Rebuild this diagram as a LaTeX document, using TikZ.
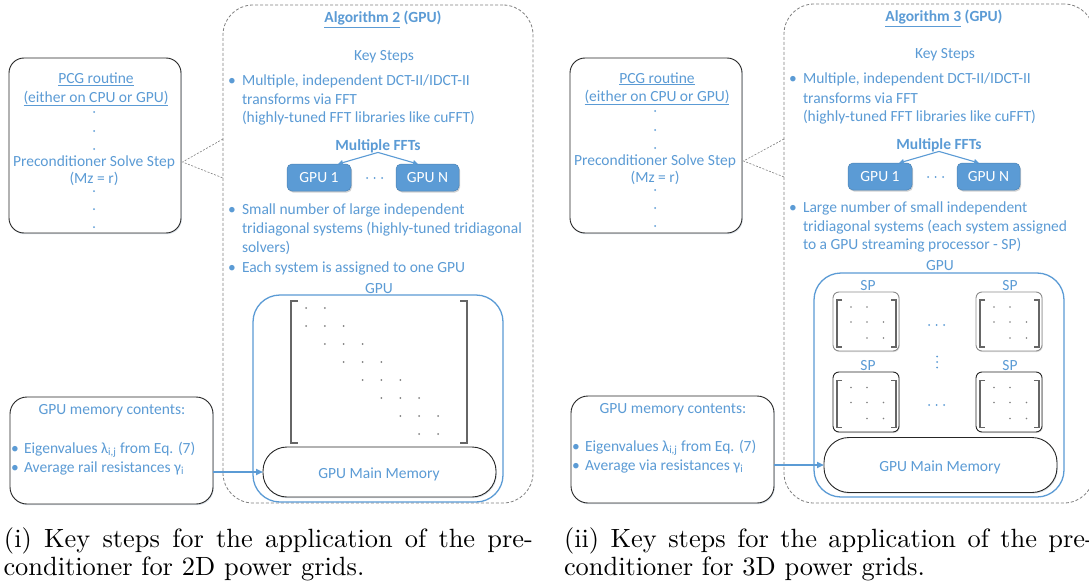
\documentclass[tikz,border=0pt]{standalone}
\usepackage{fontspec}
\newfontfamily\calfont{Carlito}
\newfontfamily\capfont{lmroman10-regular}[Extension=.otf]
\usetikzlibrary{arrows.meta,shadows,calc}
\definecolor{tblue}{RGB}{91,155,213}
\definecolor{dgray}{RGB}{128,128,128}
\tikzset{
  txt/.style={font=\calfont\fontsize{15.5}{18.6}\selectfont, text=tblue, inner sep=0pt, outer sep=0pt},
  ltxt/.style={txt, anchor=base west},
  ctxt/.style={txt, anchor=base},
  btxt/.style={ctxt, font=\calfont\bfseries\fontsize{15.5}{18.6}\selectfont},
  blackbox/.style={draw=black!85, line width=0.9pt, fill=white, rounded corners=#1, outer sep=0pt, inner sep=0pt,
    drop shadow={shadow xshift=0.8pt, shadow yshift=-1.2pt, opacity=0.25, fill=tblue!50!gray}},
  dbox/.style={draw=dgray, dash pattern=on 3pt off 2pt, line width=0.8pt, rounded corners=30pt, outer sep=0pt, inner sep=0pt},
  gbox/.style={draw=tblue, line width=1.3pt, fill=white, rounded corners=27pt, outer sep=0pt, inner sep=0pt},
  gpubox/.style={fill=tblue, draw=tblue!85!black, line width=0.5pt, rounded corners=5pt, minimum height=27pt,
    inner sep=0pt, outer sep=0pt, text=white, font=\calfont\fontsize{15.5}{18.6}\selectfont,
    drop shadow={shadow xshift=1pt, shadow yshift=-1.5pt, opacity=0.35}},
  spbox/.style={draw=#1, line width=0.9pt, fill=white, rounded corners=6pt, minimum width=66pt, outer sep=0pt, inner sep=0pt,
    drop shadow={shadow xshift=0.8pt, shadow yshift=-1pt, opacity=0.25, fill=gray}},
  conn/.style={draw=dgray, dash pattern=on 2pt off 1.5pt, line width=0.6pt},
  fftarrow/.style={draw=tblue, line width=1.1pt, -{Triangle[length=5pt,width=5pt]}},
  memarrow/.style={draw=tblue, line width=1.7pt, -{Triangle[length=7pt,width=6pt]}},
  brk/.style={draw=black!60, line width=1.8pt},
  sbrk/.style={draw=black!60, line width=1.4pt},
  captxt/.style={anchor=base west, inner sep=0pt, outer sep=0pt, font=\capfont\fontsize{26.4}{30}\selectfont}
}
\begin{document}
\begin{tikzpicture}[x=1pt,y=-1pt]
\useasboundingbox (0,0) rectangle (1089,586);
\fill[white] (0,0) rectangle (1089,586);
\begin{scope}
\clip (0,0) rectangle (1089,586);

%================ LEFT PANEL (i) =================
\node[dbox, minimum width=310pt, minimum height=498pt] (algL) at (378,254) {};
\node[blackbox=15pt, minimum width=172pt, minimum height=175pt] (pcgL) at (95,145.5) {};
\node[ctxt] (pcgLa) at (96,84) {\underline{PCG routine}};
\node[ctxt] (pcgLb) at (96,102) {\underline{(either on CPU or GPU)}};
\node[ctxt] (pcgLc) at (94,166) {Preconditioner Solve Step};
\node[ctxt] (pcgLd) at (94,183) {(Mz = r)};
\foreach \y in {112,131,149,191,209,227} \fill[tblue] (94,\y) circle (1pt);
\coordinate (cL) at (182.5,162);
\coordinate (aL1) at (223,139);
\coordinate (aL2) at (223,178);
\draw[conn] (aL1) -- (cL) -- (aL2);

\node[ctxt, font=\calfont\bfseries\fontsize{15.5}{18.6}\selectfont] (hL) at (383,23) {\underline{Algorithm 2} (GPU)};
\node[ctxt] (ksL) at (384,60) {Key Steps};
\node[ctxt] (bL1) at (232,85) {•};
\node[ltxt] (tL1) at (242,85) {Multiple, independent DCT-II/IDCT-II};
\node[ltxt] (tL2) at (242,104) {transforms via FFT};
\node[ltxt] (tL3) at (242,122) {(highly-tuned FFT libraries like cuFFT)};
\node[btxt] (fftL) at (378,150) {Multiple FFTs};
\node[gpubox, minimum width=64pt] (g1L) at (319,177.5) {GPU 1};
\node[gpubox, minimum width=63pt] (gNL) at (427.5,177.5) {GPU N};
\coordinate (g1Lt) at ($(g1L.north)+(19,0)$);
\coordinate (gNLt) at ($(gNL.north)+(-9.5,0)$);
\draw[fftarrow] (fftL.south) -- (g1Lt);
\draw[fftarrow] (fftL.south) -- (gNLt);
\foreach \x in {367,374.5,382} \fill[tblue] (\x,178) circle (1pt);
\node[ctxt] (bL2) at (232,214) {•};
\node[ltxt] (tL4) at (242,214) {Small number of large independent};
\node[ltxt] (tL5) at (242,233) {tridiagonal systems (highly-tuned tridiagonal};
\node[ltxt] (tL6) at (242,252) {solvers)};
\node[ctxt] (bL3) at (232,272) {•};
\node[ltxt] (tL7) at (242,272) {Each system is assigned to one GPU};
\node[ctxt] (gpuL) at (379,293) {GPU};

\node[gbox, minimum width=250pt, minimum height=207pt] (gbL) at (378,398.5) {};
\draw[brk] (298,301) -- (291,301) -- (291,443) -- (298,443);
\draw[brk] (460,301) -- (467,301) -- (467,443) -- (460,443);
\foreach \r in {1,...,8}{
  \foreach \d in {-1,0,1}{
    \pgfmathtruncatemacro\c{\r+\d}
    \ifnum\c>0 \ifnum\c<9
      \fill[black!50] ({306+18.86*(\c-1)},{308+18*(\r-1)}) circle (1pt);
    \fi\fi
  }
}
\node[blackbox=24pt, minimum width=233pt, minimum height=50pt] (mmL) at (379.5,472) {};
\node[ctxt] (mmLt) at (379,478) {GPU Main Memory};

\node[blackbox=17pt, minimum width=203pt, minimum height=107pt] (memL) at (111.5,450.5) {};
\node[ctxt] (memLh) at (112,414) {GPU memory contents:};
\node[ctxt] (memLb1) at (15,453) {•};
\node[ltxt] (memLt1) at (24,453) {Eigenvalues λ\textsubscript{i,j} from Eq. (7)};
\node[ctxt] (memLb2) at (15,472) {•};
\node[ltxt] (memLt2) at (24,472) {Average rail resistances γ\textsubscript{i}};
\draw[memarrow] (memL.east |- mmL.west) -- (mmL.west);

\node[captxt] (capL1) at (4,547) {\makebox[529pt][s]{(i) Key steps for the application of the pre-}};
\node[captxt] (capL2) at (3.5,575) {conditioner for 2D power grids.};

%================ RIGHT PANEL (ii) =================
\node[dbox, minimum width=310pt, minimum height=499pt] (algR) at (939,253.5) {};
\node[blackbox=15pt, minimum width=172pt, minimum height=175pt] (pcgR) at (656,145.5) {};
\node[ctxt] (pcgRa) at (657,83) {\underline{PCG routine}};
\node[ctxt] (pcgRb) at (657,101) {\underline{(either on CPU or GPU)}};
\node[ctxt] (pcgRc) at (655,165) {Preconditioner Solve Step};
\node[ctxt] (pcgRd) at (655,182) {(Mz = r)};
\foreach \y in {111,130,148,190,208,226} \fill[tblue] (655,\y) circle (1pt);
\coordinate (cR) at (743.5,161);
\coordinate (aR1) at (784,139);
\coordinate (aR2) at (784,177);
\draw[conn] (aR1) -- (cR) -- (aR2);

\node[ctxt, font=\calfont\bfseries\fontsize{15.5}{18.6}\selectfont] (hR) at (944,22) {\underline{Algorithm 3} (GPU)};
\node[ctxt] (ksR) at (945,59) {Key Steps};
\node[ctxt] (bR1) at (793,84) {•};
\node[ltxt] (tR1) at (803,84) {Multiple, independent DCT-II/IDCT-II};
\node[ltxt] (tR2) at (803,103) {transforms via FFT};
\node[ltxt] (tR3) at (803,121) {(highly-tuned FFT libraries like cuFFT)};
\node[btxt] (fftR) at (939,149) {Multiple FFTs};
\node[gpubox, minimum width=64pt] (g1R) at (880,176.5) {GPU 1};
\node[gpubox, minimum width=63pt] (gNR) at (988.5,176.5) {GPU N};
\coordinate (g1Rt) at ($(g1R.north)+(19,0)$);
\coordinate (gNRt) at ($(gNR.north)+(-9.5,0)$);
\draw[fftarrow] (fftR.south) -- (g1Rt);
\draw[fftarrow] (fftR.south) -- (gNRt);
\foreach \x in {928,935.5,943} \fill[tblue] (\x,177) circle (1pt);
\node[ctxt] (bR2) at (793,212) {•};
\node[ltxt] (tR4) at (803,212) {Large number of small independent};
\node[ltxt] (tR5) at (803,231) {tridiagonal systems (each system assigned};
\node[ltxt] (tR6) at (803,249) {to a GPU streaming processor - SP)};
\node[ctxt] (gpuR) at (940,270) {GPU};

\node[gbox, minimum width=250pt, minimum height=224pt] (gbR) at (939,385) {};
\node[ctxt] (spl1) at (868,290) {SP};
\node[ctxt] (spl2) at (1010,290) {SP};
\node[ctxt] (spl3) at (868,370) {SP};
\node[ctxt] (spl4) at (1010,370) {SP};
\foreach \cx/\cy/\col/\h/\n in {866/321.5/black!45/59/1, 1009/321.5/black!45/59/2, 866/402/black!85/60/3, 1009/402/black!85/60/4}{
  \node[spbox=\col, minimum height=\h pt] (sp\n) at (\cx,\cy) {};
  \draw[sbrk] ({\cx-24},{\cy-21.5}) -- ({\cx-29},{\cy-21.5}) -- ({\cx-29},{\cy+25.5}) -- ({\cx-24},{\cy+25.5});
  \draw[sbrk] ({\cx+25},{\cy-21.5}) -- ({\cx+30},{\cy-21.5}) -- ({\cx+30},{\cy+25.5}) -- ({\cx+25},{\cy+25.5});
  \foreach \dx/\dy in {-15/-14.5, 1/-14.5, -15/0.5, 1/0.5, 17.5/0.5, 1/16.5, 17.5/16.5}
    \fill[black!50] ({\cx+\dx},{\cy+\dy}) circle (0.9pt);
}
\foreach \x in {929,936.5,944} \fill[tblue] (\x,325) circle (1pt);
\foreach \x in {929,936.5,944} \fill[tblue] (\x,405) circle (1pt);
\foreach \y in {356.5,362,367.5} \fill[tblue] (937,\y) circle (1pt);

\node[blackbox=25pt, minimum width=233pt, minimum height=55pt] (mmR) at (940.5,465) {};
\node[ctxt] (mmRt) at (940,471) {GPU Main Memory};

\node[blackbox=17pt, minimum width=203pt, minimum height=107pt] (memR) at (672.5,449.5) {};
\node[ctxt] (memRh) at (673,413) {GPU memory contents:};
\node[ctxt] (memRb1) at (576,451) {•};
\node[ltxt] (memRt1) at (585,451) {Eigenvalues λ\textsubscript{i,j} from Eq. (7)};
\node[ctxt] (memRb2) at (576,470) {•};
\node[ltxt] (memRt2) at (585,470) {Average via resistances γ\textsubscript{i}};
\draw[memarrow] (memR.east |- mmR.west) -- (mmR.west);

\node[captxt] (capR1) at (564,547) {\makebox[530pt][s]{(ii) Key steps for the application of the pre-}};
\node[captxt] (capR2) at (564,575) {conditioner for 3D power grids.};
\end{scope}
\end{tikzpicture}
\end{document}
